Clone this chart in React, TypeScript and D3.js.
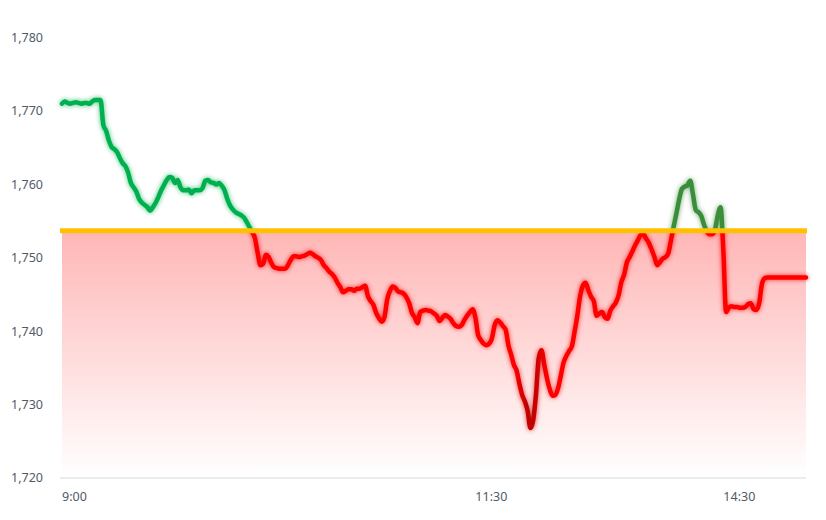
import React from "react";
import * as d3 from "d3";

// Price per trading minute (index 0 = 9:00, 150 = 11:30 / 13:00 restart, 270 = 15:00)
const prices: number[] = [
  1771.0, 1771.3, 1771.1, 1771.0, 1771.1, 1771.2, 1771.1, 1771.0, 1771.1, 1771.1,
  1771.0, 1771.3, 1771.5, 1771.5, 1771.5, 1768.1, 1767.3, 1766.0, 1765.1, 1764.8,
  1764.4, 1763.6, 1762.9, 1762.5, 1761.6, 1760.2, 1759.6, 1759.0, 1758.0, 1757.5,
  1757.2, 1756.9, 1756.4, 1756.9, 1757.5, 1758.3, 1759.2, 1759.9, 1760.6, 1761.0,
  1760.9, 1760.2, 1760.6, 1759.6, 1759.2, 1759.2, 1759.3, 1758.8, 1759.2, 1759.2,
  1759.2, 1759.5, 1760.5, 1760.6, 1760.3, 1760.2, 1760.0, 1760.2, 1759.8, 1759.2,
  1758.0, 1757.1, 1756.6, 1756.2, 1756.0, 1755.8, 1755.5, 1754.9, 1754.2, 1753.5,
  1752.7, 1750.7, 1749.0, 1749.2, 1750.4, 1750.1, 1749.3, 1748.7, 1748.6, 1748.5,
  1748.5, 1748.5, 1749.0, 1749.7, 1750.2, 1750.2, 1750.1, 1750.2, 1750.3, 1750.5,
  1750.7, 1750.5, 1750.2, 1750.0, 1749.7, 1749.0, 1748.6, 1748.1, 1747.8, 1747.3,
  1746.6, 1746.0, 1745.3, 1745.5, 1745.7, 1745.7, 1745.5, 1745.8, 1745.8, 1746.0,
  1746.2, 1744.8, 1744.1, 1743.6, 1742.5, 1741.8, 1741.3, 1741.9, 1744.3, 1745.5,
  1746.1, 1745.9, 1745.4, 1745.3, 1745.1, 1744.6, 1743.8, 1742.5, 1741.9, 1741.1,
  1742.6, 1742.8, 1742.9, 1742.8, 1742.7, 1742.4, 1742.1, 1741.4, 1741.8, 1742.2,
  1742.0, 1741.7, 1741.1, 1740.7, 1740.6, 1740.8, 1741.5, 1742.1, 1742.6, 1743.0,
  1741.9, 1739.5, 1738.8, 1738.3, 1738.1, 1738.3, 1739.0, 1740.8, 1741.5, 1741.2,
  1740.7, 1740.2, 1738.1, 1736.8, 1735.4, 1734.6, 1732.8, 1731.3, 1730.4, 1729.1,
  1726.8, 1727.9, 1731.3, 1736.3, 1737.4, 1735.5, 1733.6, 1732.1, 1731.2, 1731.3,
  1732.2, 1733.9, 1735.7, 1736.6, 1737.3, 1737.9, 1739.9, 1742.1, 1744.7, 1746.2,
  1746.6, 1745.6, 1744.7, 1744.1, 1742.1, 1742.4, 1742.6, 1741.9, 1741.7, 1742.8,
  1743.4, 1743.9, 1744.9, 1746.7, 1747.7, 1749.4, 1750.1, 1750.9, 1751.7, 1752.4,
  1753.1, 1753.2, 1752.6, 1752.0, 1751.1, 1750.1, 1749.0, 1749.4, 1749.9, 1750.1,
  1750.6, 1752.4, 1754.3, 1756.1, 1758.0, 1759.4, 1759.7, 1759.9, 1760.5, 1758.6,
  1756.5, 1756.2, 1755.7, 1754.5, 1753.6, 1753.2, 1753.2, 1753.9, 1755.8, 1756.9,
  1751.0, 1742.6, 1743.2, 1743.4, 1743.3, 1743.3, 1743.2, 1743.2, 1743.3, 1743.7,
  1743.8, 1743.0, 1742.9, 1743.8, 1746.4, 1747.2, 1747.3, 1747.3, 1747.3, 1747.3,
  1747.3, 1747.3, 1747.3, 1747.3, 1747.3, 1747.3, 1747.3, 1747.3, 1747.3, 1747.3,
  1747.3,
];

const prevClose = 1753.7;
const yTicks = [1720, 1730, 1740, 1750, 1760, 1770, 1780];
const xTickMinutes = [0, 150, 240];
const xTickLabels = ["9:00", "11:30", "14:30"];
const sessionMinutes = 270;

const W = 826;
const H = 520;
const FONT = "'Noto Sans', 'Open Sans', sans-serif";
const TEXT_COLOR = "#4f5b69";

export default function App() {
  const left = 62;
  const right = 806;
  const bottom = 478;
  const top = 37.6;

  const x = d3.scaleLinear().domain([0, sessionMinutes]).range([left, right]);
  const y = d3.scaleLinear().domain([1720, 1780]).range([bottom, top]);

  const lineGen = d3
    .line<number>()
    .x((_, i) => x(i))
    .y((d) => y(d))
    .curve(d3.curveMonotoneX);
  const d = lineGen(prices) || "";
  const yb = y(prevClose);
  const f = (t: number) => t / sessionMinutes;

  return (
    <svg
      width={W}
      height={H}
      style={{ position: "absolute", left: 0, top: 0, background: "#fff" }}
    >
      <defs>
        <linearGradient id="fillGrad" x1="0" y1="0" x2="0" y2="1">
          <stop offset="0" stopColor="#ffb6b6" />
          <stop offset="1" stopColor="#ffffff" />
        </linearGradient>
        <linearGradient id="redGrad" gradientUnits="userSpaceOnUse" x1={left} y1={0} x2={right} y2={0}>
          <stop offset="0" stopColor="#ff0000" />
          <stop offset={f(164)} stopColor="#ff0000" />
          <stop offset={f(169)} stopColor="#c00000" />
          <stop offset={f(172)} stopColor="#c80000" />
          <stop offset={f(176)} stopColor="#ff0000" />
          <stop offset="1" stopColor="#ff0000" />
        </linearGradient>
        <linearGradient id="greenGrad" gradientUnits="userSpaceOnUse" x1={left} y1={0} x2={right} y2={0}>
          <stop offset="0" stopColor="#00b050" />
          <stop offset={f(200)} stopColor="#00b050" />
          <stop offset={f(221)} stopColor="#3a8d3a" />
          <stop offset="1" stopColor="#3a8d3a" />
        </linearGradient>
        <clipPath id="clipAbove">
          <rect x={0} y={0} width={W} height={yb} />
        </clipPath>
        <clipPath id="clipBelow">
          <rect x={0} y={yb} width={W} height={H - yb} />
        </clipPath>
        <filter id="glow" filterUnits="userSpaceOnUse" x={0} y={0} width={W} height={H}>
          <feGaussianBlur in="SourceGraphic" stdDeviation="2.6" result="blur" />
          <feComponentTransfer in="blur" result="soft">
            <feFuncA type="linear" slope="0.75" />
          </feComponentTransfer>
          <feMerge>
            <feMergeNode in="soft" />
            <feMergeNode in="SourceGraphic" />
          </feMerge>
        </filter>
      </defs>

      {/* red gradient area from previous close down */}
      <rect x={left} y={yb} width={right - left} height={bottom - yb - 1} fill="url(#fillGrad)" />

      {/* x axis line */}
      <line x1={60} x2={right} y1={bottom} y2={bottom} stroke="#d9d9d9" strokeWidth={1} />

      {/* y tick labels */}
      {yTicks.map((t) => (
        <text
          key={t}
          x={43}
          y={y(t)}
          dy="0.35em"
          textAnchor="end"
          fontFamily={FONT}
          fontSize={12.5}
          fill={TEXT_COLOR}
        >
          {d3.format(",")(t)}
        </text>
      ))}

      {/* x tick labels */}
      {xTickMinutes.map((m, i) => (
        <text
          key={m}
          x={x(m)}
          y={497}
          dy="0.35em"
          textAnchor="start"
          fontFamily={FONT}
          fontSize={12.5}
          fill={TEXT_COLOR}
        >
          {xTickLabels[i]}
        </text>
      ))}

      {/* price line: green above previous close, red below */}
      <g clipPath="url(#clipAbove)">
        <path
          d={d}
          fill="none"
          stroke="url(#greenGrad)"
          strokeWidth={4.5}
          strokeLinejoin="round"
          strokeLinecap="round"
          filter="url(#glow)"
        />
      </g>
      <g clipPath="url(#clipBelow)">
        <path
          d={d}
          fill="none"
          stroke="url(#redGrad)"
          strokeWidth={4.5}
          strokeLinejoin="round"
          strokeLinecap="round"
          filter="url(#glow)"
        />
      </g>

      {/* previous close line */}
      <line x1={60} x2={807} y1={yb} y2={yb} stroke="#ffc000" strokeWidth={5} />
    </svg>
  );
}
